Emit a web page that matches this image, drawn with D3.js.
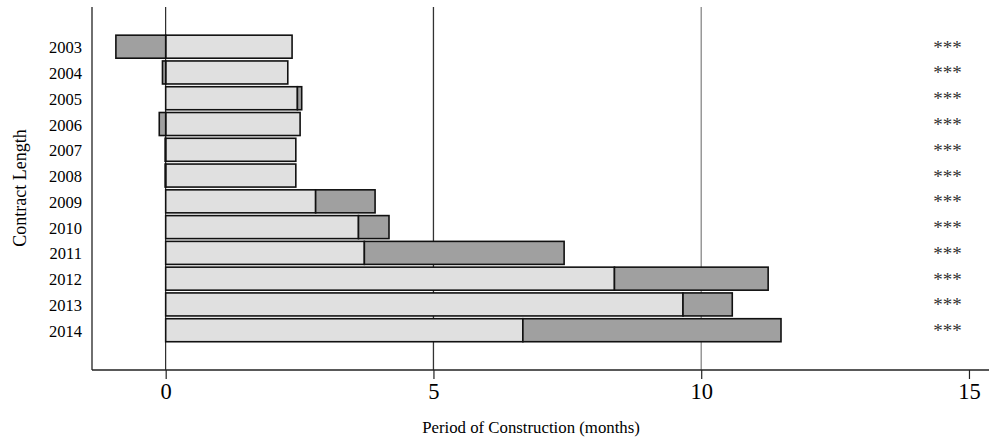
<!DOCTYPE html>
<html><head><meta charset="utf-8">
<script src="https://cdn.jsdelivr.net/npm/d3@7"></script>
<style>body{margin:0;background:#fff}svg{display:block}</style>
</head><body>
<script>
const categories = ["2003","2004","2005","2006","2007","2008","2009","2010","2011","2012","2013","2014"];
const baseValues = [2.36,2.28,2.46,2.51,2.43,2.43,2.80,3.60,3.71,8.38,9.66,6.67];
const deltaValues = [-0.93,-0.06,0.08,-0.12,-0.01,-0.01,1.11,0.57,3.73,2.87,0.92,4.82];
const significance = ["***","***","***","***","***","***","***","***","***","***","***","***"];
const xTicks = [0,5,10,15];
const gridValues = [0,5,10];

const W=989,H=443;
const svg=d3.select("body").append("svg").attr("width",W).attr("height",H);
const plotTop=7, plotBottom=370, plotLeft=92, plotRight=989;
const x=d3.scaleLinear().domain([-1.376,15.374]).range([plotLeft,plotRight]);
const y=d3.scaleBand().domain(categories).range([33.8,343.1]).paddingInner(0.107).paddingOuter(0.0535);
const font="'Liberation Serif','Times New Roman',serif";

// gridlines
const gridColors={0:"#000",5:"#333",10:"#888"};
svg.append("g").selectAll("line").data(gridValues).join("line")
  .attr("x1",d=>x(d)).attr("x2",d=>x(d)).attr("y1",plotTop).attr("y2",plotBottom)
  .attr("stroke",d=>gridColors[d]).attr("stroke-width",d=>d===0?1:1.3);

// bars
const rows=categories.map((c,i)=>({c,base:baseValues[i],delta:deltaValues[i]}));
const g=svg.append("g");
g.selectAll("rect.base").data(rows).join("rect").attr("class","base")
  .attr("x",d=>x(0)).attr("width",d=>x(d.base)-x(0))
  .attr("y",d=>y(d.c)).attr("height",y.bandwidth())
  .attr("fill","#e0e0e0").attr("stroke","#111").attr("stroke-width",1.6);
g.selectAll("rect.delta").data(rows).join("rect").attr("class","delta")
  .attr("x",d=>d.delta>=0?x(d.base):x(d.delta))
  .attr("width",d=>d.delta>=0?x(d.base+d.delta)-x(d.base):x(0)-x(d.delta))
  .attr("y",d=>y(d.c)).attr("height",y.bandwidth())
  .attr("fill","#a0a0a0").attr("stroke","#111").attr("stroke-width",1.6);

// left axis
svg.append("line").attr("x1",plotLeft).attr("x2",plotLeft).attr("y1",plotTop).attr("y2",plotBottom)
  .attr("stroke","#222").attr("stroke-width",1.3);
const ya=svg.append("g").attr("transform",`translate(${plotLeft},0)`)
  .call(d3.axisLeft(y).tickSize(0).tickPadding(10));
ya.select(".domain").remove();
ya.selectAll("text").attr("font-family",font).attr("font-size",16.5).attr("fill","#000").attr("dy","0.4em");

// bottom axis
const xa=svg.append("g").attr("transform",`translate(0,${plotBottom})`)
  .call(d3.axisBottom(x).tickValues(xTicks).tickSize(9).tickPadding(6).tickFormat(d3.format("d")));
xa.select(".domain").remove();
svg.append("line").attr("x1",plotLeft).attr("x2",plotRight).attr("y1",plotBottom).attr("y2",plotBottom)
  .attr("stroke","#222").attr("stroke-width",1.3);
xa.selectAll(".tick line").attr("stroke","#222").attr("stroke-width",1.2);
xa.selectAll("text").attr("font-family",font).attr("font-size",22.5).attr("fill","#000").attr("dy","0.62em");

// significance stars
svg.append("g").selectAll("text").data(rows).join("text")
  .attr("x",x(14.6)).attr("y",d=>y(d.c)+y.bandwidth()/2+7)
  .attr("text-anchor","middle").attr("font-family",font).attr("font-size",19).attr("fill","#333")
  .text((d,i)=>significance[i]);

// titles
svg.append("text").attr("x",531).attr("y",433).attr("text-anchor","middle")
  .attr("font-family",font).attr("font-size",16.8).text("Period of Construction (months)");
svg.append("text").attr("transform","translate(26,188) rotate(-90)").attr("text-anchor","middle")
  .attr("font-family",font).attr("font-size",18).text("Contract Length");
</script>
</body></html>
